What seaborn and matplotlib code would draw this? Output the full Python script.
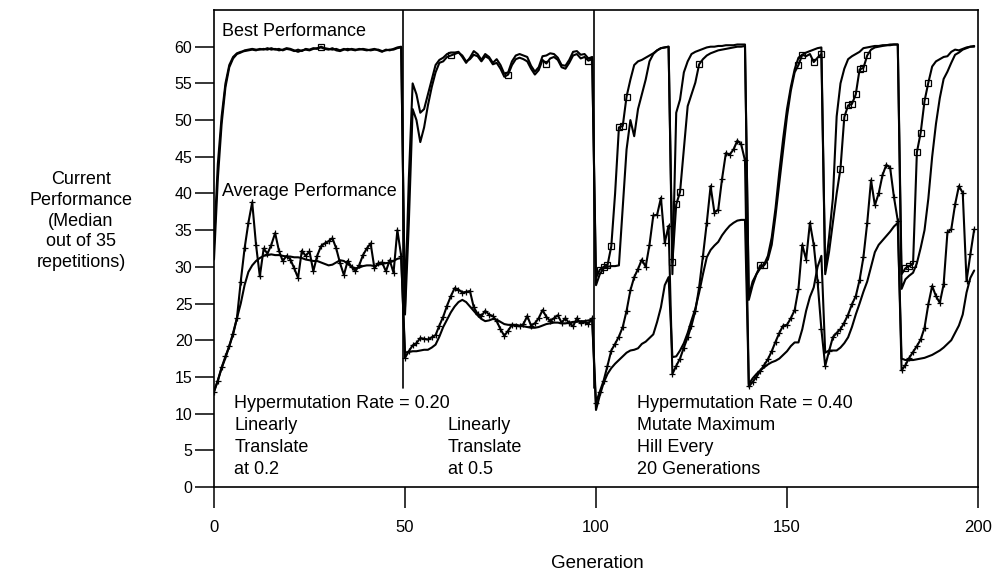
import matplotlib
matplotlib.use("Agg")
import matplotlib.pyplot as plt
import pandas as pd
import seaborn as sns

# ---------------- data ----------------
generation = list(range(200))

# best performance, run with square markers
best_a_p1 = [31, 42, 49.5, 54.5, 57.2, 58.4, 59.0, 59.2, 59.5, 59.6,
             59.7, 59.6, 59.6, 59.7, 59.6, 59.8, 59.6, 59.7, 59.5, 59.7,
             59.6, 59.4, 59.6, 59.4, 59.7, 59.6, 59.8, 59.7, 60.0, 59.8,
             59.7, 59.6, 59.7, 59.5, 59.7, 59.5, 59.7, 59.6, 59.6, 59.7,
             59.6, 59.5, 59.6, 59.6, 59.4, 59.5, 59.6, 59.6, 59.8, 59.9]
best_a_p2 = [23.5, 36.0, 51.5, 50.0, 47.0, 49.0, 52.0, 54.5, 56.5, 57.8,
             58.0, 58.6, 58.8, 59.0, 59.2, 58.8, 58.0, 58.3, 58.9, 58.7,
             58.0, 58.7, 58.4, 57.6, 57.8, 57.0, 55.9, 56.2, 57.5, 58.3,
             58.5, 58.3, 58.0, 57.0, 56.2, 56.8, 58.2, 57.7, 58.4, 58.6,
             58.2, 57.2, 57.0, 57.8, 58.8, 59.0, 58.4, 58.6, 58.1, 58.3]
best_a_p3 = [28.5, 29.6, 30.0, 30.2, 32.8, 40.0, 49.0, 49.2, 53.2, 55.5,
             57.5, 58.0, 58.2, 58.5, 58.8, 59.1, 59.5, 59.8, 59.9, 60.0,
             30.6, 38.5, 40.2, 46.0, 51.9, 53.5, 55.1, 57.6, 58.3, 58.8,
             59.1, 59.3, 59.5, 59.6, 59.7, 59.8, 59.9, 60.0, 60.0, 60.1,
             25.5, 27.5, 29.0, 30.2, 30.2, 31.0, 33.0, 37.0, 41.5, 46.0,
             50.5, 54.0, 56.5, 57.5, 58.9, 58.7, 59.0, 57.9, 58.5, 59.0,
             29.0, 32.0, 36.0, 40.0, 43.4, 50.4, 52.0, 52.2, 53.5, 56.9,
             57.1, 58.8, 59.6, 59.9, 60.0, 60.1, 60.2, 60.2, 60.3, 60.3,
             29.0, 29.8, 30.1, 30.4, 45.6, 48.3, 52.6, 55.1, 57.3, 58.0,
             58.3, 58.6, 58.7, 59.3, 59.6, 59.5, 59.7, 59.9, 60.0, 60.1]

# best performance, plain line
best_b_p1 = [33, 44, 50.5, 55, 57.5, 58.6, 59.1, 59.3, 59.4, 59.5,
             59.6, 59.5, 59.7, 59.6, 59.8, 59.6, 59.7, 59.5, 59.6, 59.8,
             59.7, 59.5, 59.3, 59.5, 59.6, 59.5, 59.7, 59.8, 59.9, 59.7,
             59.6, 59.8, 59.5, 59.4, 59.6, 59.7, 59.6, 59.5, 59.7, 59.6,
             59.5, 59.6, 59.7, 59.5, 59.3, 59.6, 59.5, 59.7, 59.9, 60.0]
best_b_p2 = [24.5, 42.0, 55.0, 53.5, 51.0, 51.5, 53.5, 55.5, 57.5, 58.2,
             58.5, 59.0, 59.2, 59.2, 59.3, 58.6, 57.8, 58.5, 59.4, 59.0,
             58.2, 59.0, 58.6, 57.8, 58.3, 57.5, 56.3, 56.5, 58.0, 58.8,
             59.0, 58.8, 58.6, 57.4, 56.6, 57.2, 58.7, 58.8, 59.1, 59.0,
             58.5, 57.5, 57.4, 58.2, 59.3, 59.4, 58.9, 59.0, 58.4, 58.6]
best_b_p3 = [27.5, 29.0, 29.8, 30.0, 30.1, 30.1, 30.2, 38.0, 46.0, 50.0,
             47.8, 51.5, 53.5, 55.5, 58.0, 59.0, 59.5, 59.8, 59.9, 60.0,
             29.0, 51.0, 52.8, 56.5, 58.0, 59.0, 59.3, 59.5, 59.7, 59.9,
             60.0, 60.0, 60.1, 60.1, 60.2, 60.2, 60.2, 60.3, 60.3, 60.3,
             26.0, 28.0, 29.0, 29.8, 30.3, 31.5, 34.0, 38.0, 43.0, 47.5,
             51.5, 54.5, 56.9, 58.5, 58.9, 59.2, 59.4, 59.6, 59.8, 59.9,
             29.5, 34.0, 39.3, 50.5, 55.0, 57.0, 58.3, 58.7, 59.0, 59.3,
             59.8, 59.9, 60.0, 60.1, 60.1, 60.2, 60.2, 60.3, 60.3, 60.3,
             27.0, 28.3, 28.8, 29.2, 30.5, 32.6, 35.0, 39.3, 45.0, 49.5,
             53.0, 55.6, 56.6, 57.8, 58.9, 59.2, 59.6, 59.8, 60.0, 60.0]

# average performance, run with "+" markers
avg_a_p1 = [13.0, 14.5, 16.3, 17.8, 19.2, 20.8, 23.0, 28.0, 32.5, 36.0,
            38.8, 33.0, 28.7, 32.5, 31.8, 33.0, 34.6, 32.2, 30.8, 31.5,
            31.0, 29.8, 28.5, 32.2, 31.5, 32.1, 29.4, 31.5, 32.8, 33.2,
            33.5, 33.9, 32.5, 30.5, 28.9, 30.8, 30.0, 29.4, 30.2, 31.6,
            32.5, 33.2, 29.8, 30.5, 30.6, 29.4, 30.9, 29.2, 35.0, 31.5]
avg_a_p2 = [17.6, 18.5, 19.3, 19.6, 20.3, 20.2, 20.1, 20.4, 20.7, 22.0,
            23.2, 24.7, 26.0, 27.1, 26.9, 26.5, 26.6, 26.7, 24.5, 23.6,
            23.3, 24.0, 23.5, 23.3, 22.6, 21.5, 20.6, 21.3, 22.1, 22.0,
            21.9, 22.2, 23.3, 22.0, 22.3, 23.0, 24.1, 23.2, 22.6, 23.0,
            23.4, 22.4, 23.0, 22.3, 21.9, 23.0, 22.3, 22.5, 22.2, 23.0]
avg_a_p3 = [11.5, 13.0, 14.5, 16.5, 18.6, 19.5, 20.5, 21.8, 24.0, 26.8,
            28.6, 29.7, 31.0, 30.0, 33.0, 37.0, 37.1, 39.4, 33.3, 35.6,
            15.4, 16.5, 17.5, 19.0, 20.4, 22.0, 24.0, 27.2, 31.5, 36.0,
            41.0, 37.4, 37.8, 42.0, 45.5, 45.3, 46.0, 47.2, 46.7, 44.5,
            13.7, 14.3, 15.0, 15.8, 16.6, 17.4, 18.5, 19.8, 21.0, 22.0,
            22.1, 23.0, 24.1, 27.0, 33.0, 31.0, 36.0, 33.0, 28.0, 21.5,
            16.5, 18.5, 20.4, 21.0, 21.5, 22.4, 23.5, 24.9, 26.0, 28.2,
            31.3, 36.0, 41.8, 38.4, 40.0, 42.5, 43.9, 43.5, 39.5, 36.3,
            15.9, 16.6, 17.6, 18.4, 19.2, 20.1, 21.7, 24.9, 27.4, 26.0,
            25.1, 27.6, 34.7, 35.1, 38.5, 41.0, 40.1, 28.1, 31.7, 35.1]

# average performance, smooth plain line
avg_b_p1 = [13.0, 14.5, 16.2, 17.6, 19.2, 21.0, 23.0, 25.0, 27.5, 29.3,
            30.2, 30.8, 31.2, 31.5, 31.6, 31.7, 31.6, 31.6, 31.5, 31.4,
            31.4, 31.3, 31.3, 31.2, 31.0, 30.9, 30.8, 30.8, 30.6, 30.4,
            30.2, 30.3, 30.6, 30.9, 30.8, 30.4, 30.0, 29.8, 29.9, 30.1,
            30.2, 30.2, 30.1, 30.3, 30.4, 30.5, 30.6, 30.8, 31.1, 31.2]
avg_b_p2 = [18.3, 18.4, 18.5, 18.5, 18.6, 18.7, 18.7, 19.0, 19.4, 20.5,
            21.8, 22.8, 23.8, 24.6, 25.2, 25.5, 25.2, 24.6, 24.0, 23.4,
            22.9, 22.6, 22.7, 22.9, 22.8, 22.5, 22.2, 22.1, 22.1, 22.1,
            22.0, 21.9, 21.8, 21.7, 21.7, 21.8, 22.0, 22.2, 22.3, 22.4,
            22.4, 22.3, 22.3, 22.4, 22.5, 22.5, 22.6, 22.6, 22.7, 22.8]
avg_b_p3 = [10.5, 12.5, 14.2, 15.4, 16.2, 16.8, 17.3, 17.8, 18.3, 18.6,
            18.7, 18.9, 19.5, 19.8, 20.3, 20.8, 22.5, 24.5, 27.5, 28.6,
            17.7, 17.8, 18.6, 19.6, 21.0, 22.7, 24.3, 26.5, 29.0, 31.3,
            32.3, 32.9, 33.4, 34.3, 35.0, 35.6, 36.0, 36.3, 36.4, 36.4,
            14.0, 14.8, 15.4, 15.9, 16.3, 16.7, 17.0, 17.2, 17.5, 18.0,
            18.5, 19.2, 19.7, 19.7, 21.5, 24.0, 25.9, 27.2, 30.0, 31.5,
            18.3, 18.6, 18.6, 18.6, 19.0, 19.6, 20.4, 21.8, 23.5, 25.0,
            26.6, 28.0, 30.0, 32.0, 33.0, 33.6, 34.2, 34.8, 35.5, 36.0,
            17.5, 17.3, 17.3, 17.3, 17.4, 17.5, 17.6, 17.8, 18.0, 18.3,
            18.6, 19.0, 19.5, 20.0, 21.0, 22.0, 23.5, 26.5, 28.5, 29.5]

# generations where the square markers appear on best_a
square_marks = [28, 62, 77, 87, 98,
                101, 102, 103, 104, 106, 107, 108,
                120, 121, 122, 127,
                143, 144, 153, 154, 157, 159,
                164, 165, 166, 167, 168, 169, 170, 171,
                181, 182, 183, 184, 185, 186, 187]

x_ticks = [0, 50, 100, 150, 200]
y_ticks = [0, 5, 10, 15, 20, 25, 30, 35, 40, 45, 50, 55, 60]
panel_breaks = [49.6, 99.6]

y_label = "Current\nPerformance\n(Median\nout of 35\nrepetitions)"
x_label = "Generation"
notes_left = ["Hypermutation Rate = 0.20", "Linearly", "Translate", "at 0.2"]
notes_mid = ["Linearly", "Translate", "at 0.5"]
notes_right = ["Hypermutation Rate = 0.40", "Mutate Maximum", "Hill Every",
               "20 Generations"]

# ---------------- table ----------------
df = pd.DataFrame({
    "generation": generation,
    "best_a": best_a_p1 + best_a_p2 + best_a_p3,
    "best_b": best_b_p1 + best_b_p2 + best_b_p3,
    "avg_a": avg_a_p1 + avg_a_p2 + avg_a_p3,
    "avg_b": avg_b_p1 + avg_b_p2 + avg_b_p3,
})

# ---------------- style ----------------
sns.set_theme(style="white", rc={"text.color": "black",
                                 "axes.labelcolor": "black",
                                 "xtick.color": "black",
                                 "ytick.color": "black",
                                 "axes.edgecolor": "black"})
plt.rcParams["font.family"] = ["Liberation Sans", "DejaVu Sans"]

W, H = 995, 575
fig = plt.figure(figsize=(W / 100, H / 100), dpi=100)
ax = fig.add_axes([214 / W, 1 - 487 / H, (978 - 214) / W, (487 - 10) / H])

common = dict(color="black", lw=1.5, estimator=None, sort=False,
              legend=False, ax=ax)
sns.lineplot(data=df, x="generation", y="best_b", **common)
sns.lineplot(data=df, x="generation", y="best_a", marker="s",
             markevery=[generation.index(g) for g in square_marks],
             markersize=4.2, markerfacecolor="none",
             markeredgecolor="black", markeredgewidth=0.9, **common)
sns.lineplot(data=df, x="generation", y="avg_b", **common)
sns.lineplot(data=df, x="generation", y="avg_a", marker="+",
             markersize=5.0, markeredgecolor="black",
             markeredgewidth=0.9, **common)

for xb in panel_breaks:
    ax.axvline(xb, ymin=13.5 / 65, ymax=1, color="black", lw=1.2)

ax.set_xlim(0, 200)
ax.set_ylim(0, 65)
ax.set_xticks(x_ticks)
ax.set_yticks(y_ticks)
ax.set_xlabel("")
ax.set_ylabel("")
ax.tick_params(axis="x", direction="out", length=15, width=1.1,
               pad=9, labelsize=12, colors="black", bottom=True)
ax.tick_params(axis="y", direction="out", length=13.5, width=1.1,
               pad=2, labelsize=11.5, colors="black", left=True)
for s in ax.spines.values():
    s.set_color("black")
    s.set_linewidth(1.2)
    s.set_visible(True)

fs = 13
ax.text(2.1, 61.5, "Best Performance", fontsize=fs, ha="left",
        va="baseline", color="black")
ax.text(2.1, 39.6, "Average Performance", fontsize=fs, ha="left",
        va="baseline", color="black")

base_vals = [10.8, 7.8, 4.8, 1.8]
for txt, yv in zip(notes_left, base_vals):
    ax.text(5.3, yv, txt, fontsize=fs, ha="left", va="baseline",
            color="black")
for txt, yv in zip(notes_mid, base_vals[1:]):
    ax.text(61.2, yv, txt, fontsize=fs, ha="left", va="baseline",
            color="black")
for txt, yv in zip(notes_right, base_vals):
    ax.text(110.7, yv, txt, fontsize=fs, ha="left", va="baseline",
            color="black")

fig.text(81 / W, 1 - 221 / H, y_label, fontsize=fs, ha="center",
         va="center", multialignment="center", linespacing=1.27,
         color="black")
fig.text(597 / W, 1 - 563 / H, x_label, fontsize=13.5, ha="center",
         va="center", color="black")

fig.savefig("out.png", dpi=100)
